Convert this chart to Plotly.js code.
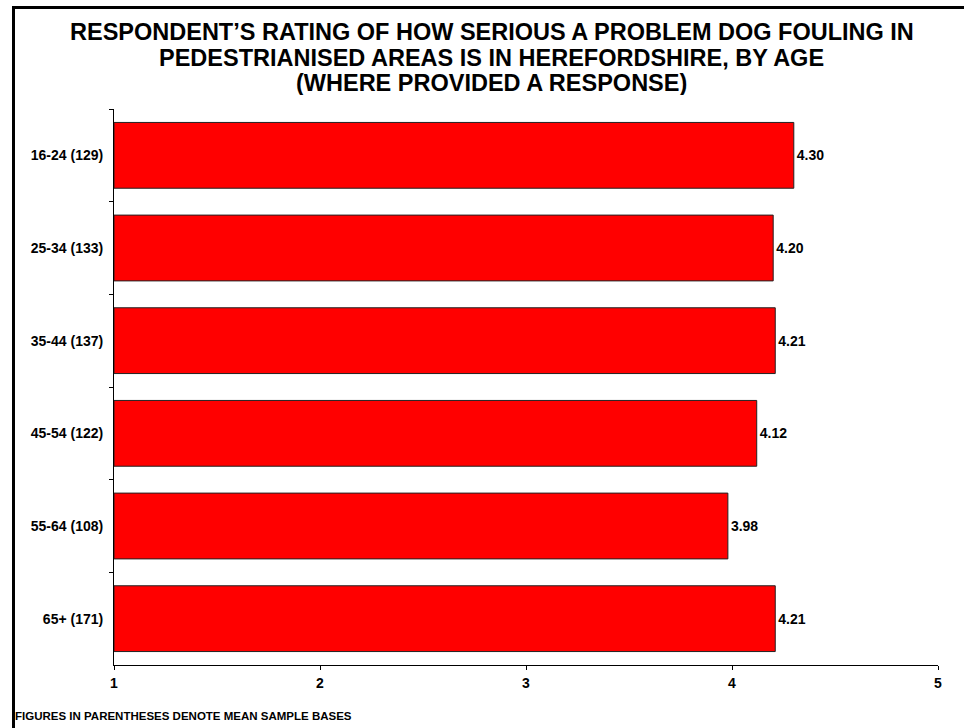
<!DOCTYPE html>
<html>
<head>
<meta charset="utf-8">
<script src="https://cdn.plot.ly/plotly-3.0.1.min.js"></script>
<style>
  html, body { margin: 0; padding: 0; background: #fff; }
  #wrap { position: relative; width: 964px; height: 728px; overflow: hidden; }
  #chart { position: absolute; left: 0; top: 0; width: 964px; height: 728px; }
  #frame { position: absolute; left: 12px; top: 6px; width: 960px; height: 719px;
           border: 3px solid #000; pointer-events: none; box-sizing: content-box; }
</style>
</head>
<body>
<div id="wrap">
  <div id="chart"></div>
  <div id="frame"></div>
</div>
<script>
const categories = ["16-24 (129)", "25-34 (133)", "35-44 (137)", "45-54 (122)", "55-64 (108)", "65+ (171)"];
const values = [4.30, 4.20, 4.21, 4.12, 3.98, 4.21];
const valueLabels = ["4.30", "4.20", "4.21", "4.12", "3.98", "4.21"];
const xTicks = [1, 2, 3, 4, 5];
const titleLines = [
  "RESPONDENT\u2019S RATING OF HOW SERIOUS A PROBLEM DOG FOULING IN",
  "PEDESTRIANISED AREAS IS IN HEREFORDSHIRE, BY AGE",
  "(WHERE PROVIDED A RESPONSE)"
];
const footnote = "FIGURES IN PARENTHESES DENOTE MEAN SAMPLE BASES";

const sans = "Arial, 'Liberation Sans', sans-serif";
const axisBase = 1;

const trace = {
  type: "bar",
  orientation: "h",
  y: categories,
  x: values.map(v => v - axisBase),
  base: axisBase,
  text: valueLabels,
  textposition: "outside",
  cliponaxis: false,
  textfont: { family: sans, size: 14, color: "#000", weight: "bold" },
  marker: { color: "#ff0000", line: { color: "#222", width: 1 } },
  width: 0.71,
  hoverinfo: "skip"
};

const titleY = [1.1385, 1.0917, 1.0468];
const annotations = titleLines.map((t, i) => ({
  text: t,
  xref: "paper", yref: "paper",
  x: 0.4587, y: titleY[i], xanchor: "center", yanchor: "middle",
  height: 24, valign: "middle",
  showarrow: false,
  font: { family: sans, size: 23.5, color: "#000", weight: "bold" }
}));
annotations.push({
  text: footnote,
  xref: "paper", yref: "paper",
  x: -0.1225, y: -0.0917, xanchor: "left", yanchor: "middle",
  showarrow: false,
  font: { family: sans, size: 11.5, color: "#000", weight: "bold" }
});

const layout = {
  width: 964, height: 728,
  margin: { l: 114, r: 26, t: 109, b: 63 },
  paper_bgcolor: "#fff", plot_bgcolor: "#fff",
  showlegend: false,
  xaxis: {
    range: [1, 5],
    tickvals: xTicks,
    ticktext: xTicks.map(String),
    ticks: "outside", ticklen: 4, tickcolor: "#000", tickwidth: 1,
    showline: true, linecolor: "#000", linewidth: 1,
    showgrid: false, zeroline: false,
    ticklabelstandoff: 1,
    tickfont: { family: sans, size: 14, color: "#000", weight: "bold" },
    fixedrange: true
  },
  yaxis: {
    autorange: "reversed",
    type: "category",
    ticks: "outside", ticklen: 4, tickcolor: "#000", tickwidth: 1,
    tickson: "boundaries",
    showline: true, linecolor: "#000", linewidth: 1,
    showgrid: false, zeroline: false,
    ticklabelstandoff: 7,
    tickfont: { family: sans, size: 14, color: "#000", weight: "bold" },
    fixedrange: true
  },
  annotations: annotations,
  bargap: 0.29
};

Plotly.newPlot("chart", [trace], layout, { displayModeBar: false, staticPlot: true });
</script>
</body>
</html>
